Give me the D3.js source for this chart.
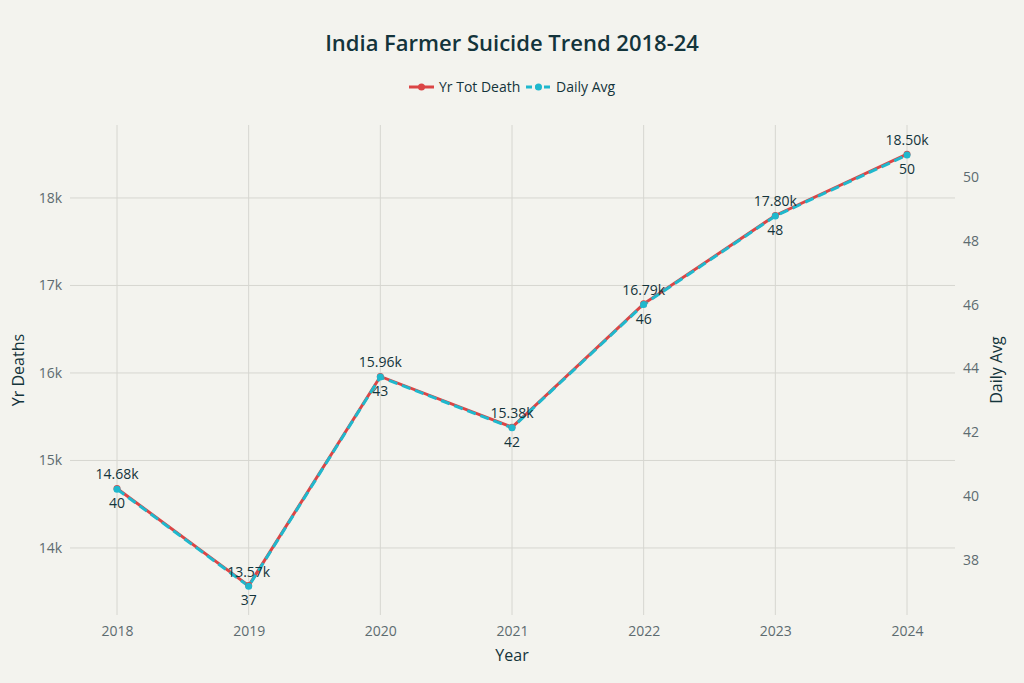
<!DOCTYPE html>
<html><head><meta charset="utf-8">
<script src="https://cdn.jsdelivr.net/npm/d3@7"></script>
<style>
body{margin:0;background:#f3f3ee;}
text{font-family:"Open Sans",sans-serif;}
</style></head>
<body><div class="chart"></div>
<script>
const years = ["2018","2019","2020","2021","2022","2023","2024"];
const totDeaths = [14680, 13570, 15960, 15380, 16790, 17800, 18500];
const dailyAvg = [40.22, 37.18, 43.73, 42.14, 46.0, 48.77, 50.68];
const leftTicks = [14000, 15000, 16000, 17000, 18000];
const rightTicks = [38, 40, 42, 44, 46, 48, 50];

const W = 1024, H = 683;
const plot = {left: 70, right: 955, top: 125, bottom: 615};
const red = "#db4545", cyan = "#1fb8cd", txt = "#13343b", grid = "#d6d6d0";

const svg = d3.select(".chart").append("svg").attr("width", W).attr("height", H);
svg.append("rect").attr("width", W).attr("height", H).attr("fill", "#f3f3ee");

const x = d3.scalePoint().domain(years).range([117, 907]);
const yL = d3.scaleLinear().domain([13234, 18834]).range([plot.bottom, plot.top]);
const yR = d3.scaleLinear().domain([36.28, 51.62]).range([plot.bottom, plot.top]);

// grid
svg.selectAll(".vg").data(years).enter().append("line")
  .attr("x1", d => x(d)).attr("x2", d => x(d)).attr("y1", plot.top).attr("y2", plot.bottom)
  .attr("stroke", grid);
svg.selectAll(".hg").data(leftTicks).enter().append("line")
  .attr("x1", plot.left).attr("x2", plot.right).attr("y1", d => yL(d)).attr("y2", d => yL(d))
  .attr("stroke", grid);

// axes
const ax = svg.append("g").attr("transform", `translate(0,${plot.bottom})`)
  .call(d3.axisBottom(x).tickSize(0).tickPadding(11));
const ayl = svg.append("g").attr("transform", `translate(${plot.left},0)`)
  .call(d3.axisLeft(yL).tickValues(leftTicks).tickFormat(d => d / 1000 + "k").tickSize(0).tickPadding(8));
const ayr = svg.append("g").attr("transform", `translate(${plot.right},0)`)
  .call(d3.axisRight(yR).tickValues(rightTicks).tickSize(0).tickPadding(8));
[ax, ayl, ayr].forEach(g => {
  g.select(".domain").remove();
  g.selectAll("text").attr("fill", "#5d6b70").attr("font-size", 14);
});

svg.append("text").attr("x", 512).attr("y", 51).attr("text-anchor", "middle")
  .attr("font-size", 22).attr("font-weight", 600).attr("fill", txt)
  .text("India Farmer Suicide Trend 2018-24");
svg.append("text").attr("x", 512).attr("y", 661).attr("text-anchor", "middle")
  .attr("font-size", 16).attr("fill", txt).text("Year");
svg.append("text").attr("transform", "translate(24,370) rotate(-90)").attr("text-anchor", "middle")
  .attr("font-size", 16).attr("fill", txt).text("Yr Deaths");
svg.append("text").attr("transform", "translate(1002,370) rotate(-90)").attr("text-anchor", "middle")
  .attr("font-size", 16).attr("fill", txt).text("Daily Avg");

// lines
const lineL = d3.line().x((d, i) => x(years[i])).y(d => yL(d));
const lineR = d3.line().x((d, i) => x(years[i])).y(d => yR(d));
svg.append("path").attr("d", lineL(totDeaths)).attr("fill", "none").attr("stroke", red).attr("stroke-width", 3);
svg.append("path").attr("d", lineR(dailyAvg)).attr("fill", "none").attr("stroke", cyan).attr("stroke-width", 3)
  .attr("stroke-dasharray", "9,5");
svg.selectAll(".pl").data(totDeaths).enter().append("circle")
  .attr("cx", (d, i) => x(years[i])).attr("cy", d => yL(d)).attr("r", 3.5).attr("fill", red);
svg.selectAll(".pr").data(dailyAvg).enter().append("circle")
  .attr("cx", (d, i) => x(years[i])).attr("cy", d => yR(d)).attr("r", 3.5).attr("fill", cyan);

// labels
svg.selectAll(".ll").data(totDeaths).enter().append("text")
  .attr("x", (d, i) => x(years[i])).attr("y", d => yL(d) - 9).attr("text-anchor", "middle")
  .attr("font-size", 14).attr("fill", txt).text(d => (d / 1000).toFixed(2) + "k");
svg.selectAll(".lr").data(dailyAvg).enter().append("text")
  .attr("x", (d, i) => x(years[i])).attr("y", d => yR(d) + 19).attr("text-anchor", "middle")
  .attr("font-size", 14).attr("fill", txt).text(d => Math.floor(d));

// legend
const leg = [{n: "Yr Tot Death", c: red, dash: null, x: 409}, {n: "Daily Avg", c: cyan, dash: "6,3", x: 526}];
leg.forEach(l => {
  const g = svg.append("g").attr("transform", `translate(${l.x},87)`);
  g.append("line").attr("x1", 0).attr("x2", 25).attr("stroke", l.c).attr("stroke-width", 3).attr("stroke-dasharray", l.dash);
  g.append("circle").attr("cx", 12.5).attr("r", 3.5).attr("fill", l.c);
  g.append("text").attr("x", 30).attr("y", 5).attr("font-size", 14).attr("fill", txt).text(l.n);
});
</script></body></html>
